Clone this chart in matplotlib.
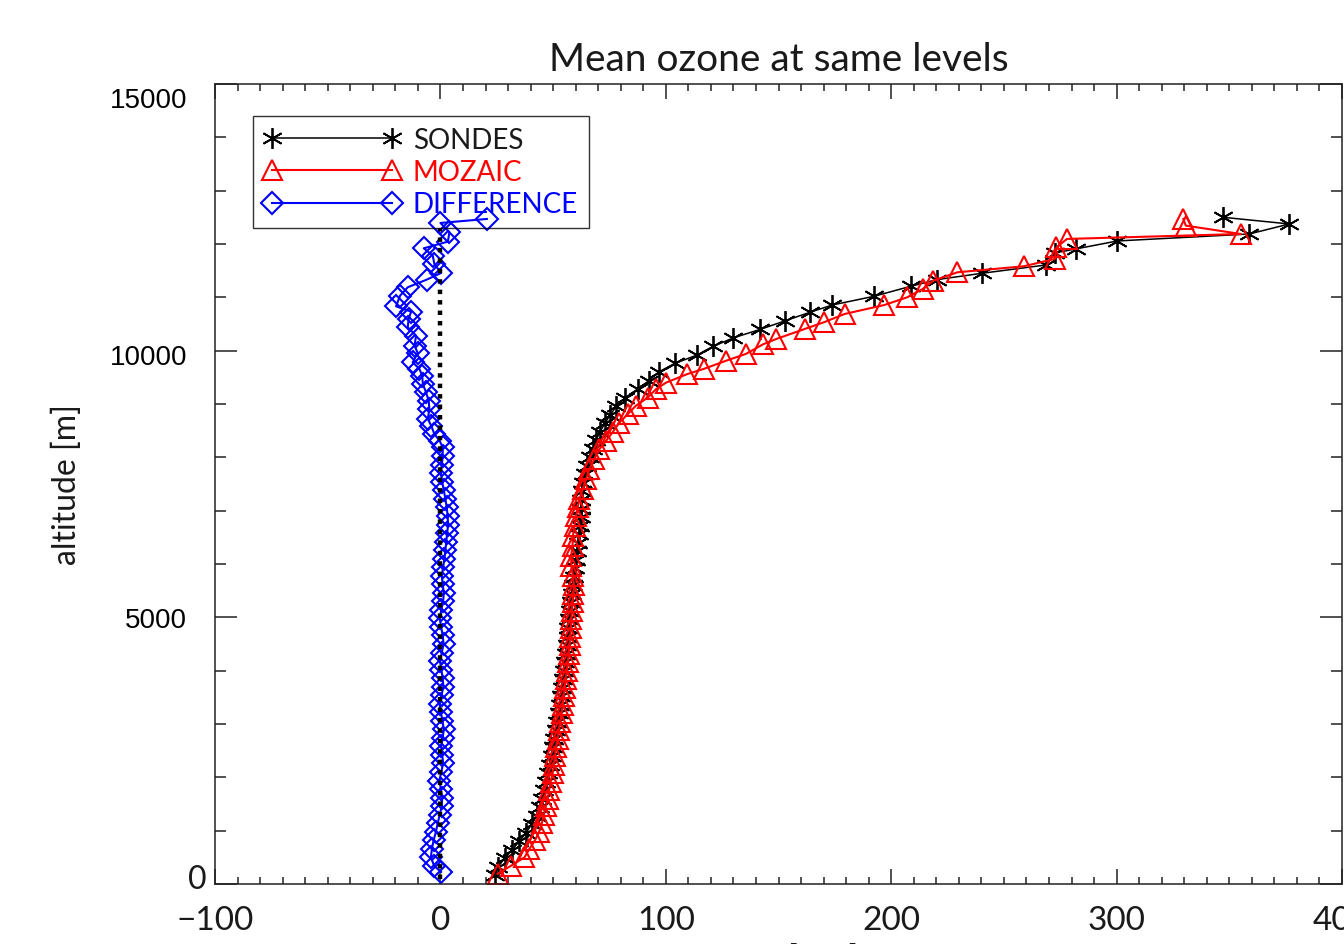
import matplotlib.pyplot as plt
import matplotlib.transforms as mtransforms
from matplotlib.ticker import MultipleLocator

# SONDES mean ozone profile (altitude in m, ozone in ppb)
alt_sondes = [160, 320, 480, 640, 800, 960, 1120, 1280, 1440, 1600,
              1760, 1920, 2080, 2240, 2400, 2560, 2720, 2880, 3040, 3200,
              3360, 3520, 3680, 3840, 4000, 4160, 4320, 4480, 4640, 4800,
              4960, 5120, 5280, 5440, 5600, 5760, 5920, 6080, 6240, 6400,
              6560, 6720, 6880, 7040, 7200, 7360, 7520, 7680, 7840, 8000,
              8160, 8320, 8480, 8640, 8800, 8960, 9120, 9280, 9440, 9600,
              9760, 9920, 10080, 10240, 10400, 10560, 10719, 10856, 11019, 11206,
              11331, 11450, 11606, 11831, 11906, 12056, 12187, 12375, 12500]
o3_sondes = [24.0, 25.5, 28.5, 31.8, 35.0, 38.0, 40.5, 42.8, 44.0, 45.0,
             46.0, 47.0, 47.8, 48.6, 49.3, 50.0, 50.6, 51.2, 51.8, 52.4,
             52.9, 53.4, 53.9, 54.4, 54.8, 55.2, 55.6, 56.0, 56.4, 56.8,
             57.2, 57.6, 58.0, 58.4, 58.8, 59.2, 59.7, 60.2, 60.6, 61.0,
             61.5, 61.9, 62.2, 62.4, 62.5, 62.9, 63.2, 64.0, 65.0, 66.2,
             67.6, 69.1, 70.8, 73.0, 75.4, 78.1, 82.0, 87.5, 92.6, 96.8,
             104.0, 114.0, 121.0, 130.0, 142.0, 153.0, 163.9, 173.9, 192.4, 208.6,
             220.2, 240.2, 268.7, 272.6, 281.8, 300.3, 358.9, 376.6, 347.3]

# MOZAIC mean ozone profile
alt_mozaic = [190, 344, 500, 660, 820, 980, 1140, 1300, 1460, 1600,
              1760, 1920, 2080, 2240, 2400, 2560, 2720, 2880, 3040, 3200,
              3360, 3520, 3680, 3840, 4000, 4160, 4320, 4480, 4640, 4800,
              4960, 5120, 5280, 5440, 5600, 5780, 5960, 6150, 6340, 6530,
              6720, 6900, 7060, 7220, 7400, 7590, 7780, 7970, 8150, 8310,
              8470, 8650, 8810, 8970, 9120, 9280, 9400, 9560, 9660, 9810,
              9940, 10120, 10220, 10406, 10531, 10687, 10856, 11000, 11156, 11312,
              11469, 11581, 11719, 11937, 12094, 12187, 12344, 12469]
o3_mozaic = [25.4, 31.4, 37.3, 39.5, 42.0, 43.8, 45.0, 45.9, 46.8, 47.6,
             48.2, 48.9, 49.8, 50.4, 50.9, 51.4, 52.0, 52.6, 53.2, 53.8,
             54.3, 54.7, 55.1, 55.6, 56.1, 56.6, 56.9, 57.3, 57.6, 57.9,
             58.1, 58.3, 58.6, 58.9, 59.3, 58.7, 58.1, 58.0, 58.6, 58.8,
             59.5, 60.2, 60.9, 61.7, 63.1, 64.6, 66.1, 68.3, 70.5, 73.5,
             76.4, 79.4, 83.1, 86.8, 92.0, 95.7, 100.1, 109.5, 117.0, 126.7,
             135.6, 143.2, 149.1, 161.6, 170.1, 179.3, 197.0, 207.1, 214.0, 218.6,
             229.4, 258.7, 272.6, 273.3, 278.0, 355.1, 330.7, 329.6]

# DIFFERENCE profile
alt_diff = [225, 340, 500, 660, 820, 980, 1140, 1300, 1460, 1620,
            1780, 1940, 2100, 2260, 2420, 2580, 2740, 2900, 3060, 3220,
            3380, 3540, 3700, 3860, 4020, 4180, 4340, 4500, 4660, 4820,
            4980, 5140, 5300, 5460, 5620, 5780, 5940, 6100, 6260, 6420,
            6580, 6740, 6900, 7060, 7220, 7380, 7540, 7700, 7860, 8020,
            8187, 8312, 8437, 8594, 8719, 8906, 9062, 9219, 9375, 9531,
            9656, 9781, 9956, 10094, 10281, 10438, 10594, 10731, 10831, 11031,
            11188, 11331, 11456, 11625, 11781, 11919, 12044, 12219, 12394, 12469]
o3_diff = [0.3, -2.8, -4.2, -3.8, -3.0, -2.0, -1.2, -0.3, 0.6, 0.8,
           0.2, -0.5, 0.4, 1.2, 0.8, 0.3, 1.0, 1.5, 0.9, 0.2,
           -0.4, 0.5, 1.3, 1.0, 0.4, -0.2, 0.6, 1.4, 1.0, 0.3,
           -0.3, 0.4, 1.2, 1.5, 1.0, 0.6, 1.2, 1.8, 2.2, 2.6,
           3.0, 3.4, 3.2, 2.8, 2.2, 1.5, 0.8, 0.2, 0.6, 1.0,
           1.0, -0.4, -2.7, -4.1, -5.6, -4.9, -5.2, -6.4, -7.8, -8.1,
           -9.3, -12.3, -10.1, -11.5, -10.8, -14.5, -14.1, -13.0, -19.7, -17.9,
           -14.5, -6.1, 0.3, -2.7, -3.4, -7.4, 3.3, 4.0, 0.0, 20.6]

# zero reference line
ref_x = [0, 0]
ref_alt = [100, 12300]

IDL_FONT = ['Lato', 'DejaVu Sans']
TXT = '#1a1a1a'

fig = plt.figure(figsize=(13.44, 9.45), dpi=100)
ax = fig.add_axes([0.16, 0.0635, 0.8385, 0.8466])

ax.plot(o3_sondes, alt_sondes, color='black', lw=1.1,
        marker=(6, 2, 0), ms=15, mew=1.3, label='SONDES')
ax.plot(o3_mozaic, alt_mozaic, color='red', lw=1.5,
        marker='^', ms=14, mfc='none', mec='red', mew=1.5, label='MOZAIC')
ax.plot(o3_diff, alt_diff, color='blue', lw=1.5,
        marker='D', ms=11, mfc='none', mec='blue', mew=1.5, label='DIFFERENCE')
ax.plot(ref_x, ref_alt, color='black', lw=3.2, ls=(0, (1.0, 1.35)),
        solid_capstyle='butt', dash_capstyle='butt')

ax.set_xlim(-100, 400)
ax.set_ylim(0, 15000)
ax.xaxis.set_major_locator(MultipleLocator(100))
ax.xaxis.set_minor_locator(MultipleLocator(10))
ax.yaxis.set_major_locator(MultipleLocator(5000))
ax.yaxis.set_minor_locator(MultipleLocator(1000))

ax.tick_params(axis='both', which='both', direction='in', top=True, right=True,
               color='#222222', width=1.1)
ax.tick_params(axis='x', which='major', length=11, pad=15, labelsize=24,
               labelcolor=TXT)
ax.tick_params(axis='x', which='minor', length=5)
ax.tick_params(axis='y', which='major', length=16, pad=20, labelsize=20)
ax.tick_params(axis='y', which='minor', length=8)
for s in ax.spines.values():
    s.set_linewidth(1.1)
    s.set_color('#222222')

for lab in ax.get_xticklabels():
    lab.set_fontfamily(IDL_FONT)
for lab in ax.get_yticklabels():
    lab.set_fontfamily(['Liberation Sans', 'DejaVu Sans'])

# IDL puts the y labels a bit off their ticks; the zero one is in the plot font
ylocs = ax.yaxis.get_majorticklocs()
yticks = dict(zip(ylocs, ax.yaxis.get_major_ticks(len(ylocs))))
zero = yticks[0]
zero.set_pad(6)
zero.label1.set_fontfamily(IDL_FONT)
zero.label1.set_fontsize(23)
zero.label1.set_color(TXT)
nudges = {0: 8, 5000: 0, 10000: -3, 15000: -13}
for loc, dy in nudges.items():
    lab = yticks[loc].label1
    lab.set_transform(lab.get_transform() +
                      mtransforms.ScaledTranslation(0, dy / 100, fig.dpi_scale_trans))

ax.set_title('Mean ozone at same levels', fontsize=28, family=IDL_FONT,
             color=TXT, pad=10)
ax.set_ylabel('altitude [m]', fontsize=23, family=IDL_FONT,
              color=TXT, labelpad=20)
ax.set_xlabel('ozone [ppb]', fontsize=22, family=IDL_FONT,
              color=TXT, labelpad=5)

leg = ax.legend(loc='upper left', bbox_to_anchor=(0.0337, 0.96), borderaxespad=0,
                numpoints=2, handlelength=4.9, handletextpad=0.45, borderpad=0.4,
                labelspacing=0.22, fancybox=False,
                prop={'family': IDL_FONT, 'size': 20})
leg.get_frame().set_edgecolor('black')
leg.get_frame().set_facecolor('none')
leg.get_frame().set_linewidth(1.0)
for txt, c in zip(leg.get_texts(), [TXT, 'red', 'blue']):
    txt.set_color(c)

fig.savefig('out.png', dpi=100)
